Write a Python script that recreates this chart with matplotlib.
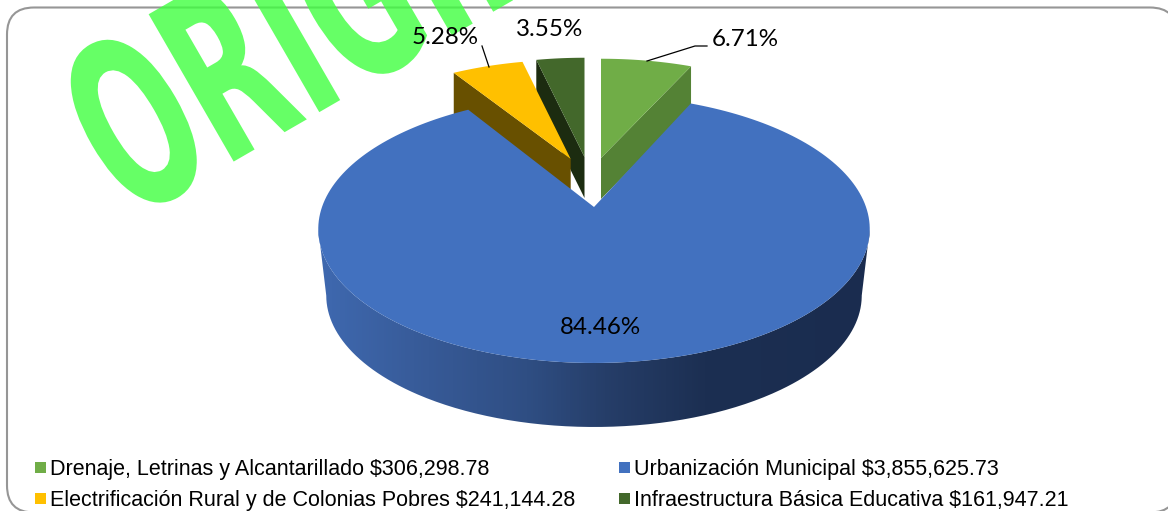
import numpy as np
import matplotlib
matplotlib.use('Agg')
import matplotlib.pyplot as plt
import matplotlib.patheffects as pe
from matplotlib.colors import LinearSegmentedColormap
from matplotlib.patches import FancyBboxPatch, Polygon, Rectangle
from matplotlib.path import Path
from matplotlib.transforms import Affine2D

names = ['Drenaje, Letrinas y Alcantarillado', 'Urbanización Municipal',
         'Electrificación Rural y de Colonias Pobres', 'Infraestructura Básica Educativa']
values = [306298.78, 3855625.73, 241144.28, 161947.21]

top_colors = ['#70ad47', '#4271bf', '#ffc000', '#43682b']
side_colors = ['#548235', None, '#685000', '#1c2c10']

# perspective of the pie plate, in pixels
A, B, K = 272.0, 130.4, 0.164
CX, CY = 594.0, 207.0


class Squeeze(pe.AbstractPathEffect):
    # the watermark font is much narrower than anything installed
    def __init__(self, sx):
        super().__init__()
        self.sx = sx

    def draw_path(self, renderer, gc, tpath, affine, rgbFace=None):
        renderer.draw_path(gc, tpath, Affine2D().scale(self.sx, 1) + affine, rgbFace)


def rim(th, cx=CX, cy=CY, sx=1.0, sy=1.0):
    # th clockwise from 12 o'clock, radians
    d = 1 + K * np.cos(th)
    return np.column_stack([cx + sx * A * np.sin(th) / d, cy - sy * B * np.cos(th) / d])


def wedge(t0, t1, apex=(CX, CY), sx=1.0, sy=1.0):
    th = np.linspace(t0, t1, 200)
    return np.vstack([[apex], rim(th, apex[0], apex[1], sx, sy)])


fig = plt.figure(figsize=(11.68, 5.11), dpi=100)
ax = fig.add_axes([0, 0, 1, 1])
ax.set_xlim(0, 1168)
ax.set_ylim(511, 0)
ax.axis('off')

frame = FancyBboxPatch((7, 7.5), 1170, 505, boxstyle='round,pad=0,rounding_size=27',
                       fc='white', ec='#969696', lw=1.5, zorder=1)
ax.add_patch(frame)

ax.text(129, 222, 'ORIGINAL', fontsize=168, fontweight='bold', family='DejaVu Sans',
        color='#40ff40', alpha=0.8, rotation=30, rotation_mode='anchor',
        ha='left', va='baseline', zorder=2, path_effects=[Squeeze(0.55)])

total = sum(values)
shares = [v / total for v in values]
edges = np.cumsum([0] + shares) * 2 * np.pi

# exploded slices, apex of the top face
SX, SY, DEPTH = 0.93, 0.886, 41
apexes = {0: (601, 158), 2: (570.7, 159), 3: (584.5, 157)}

for i in [3, 2, 0]:
    ap = apexes[i]
    cut = edges[i + 1] if i == 0 else edges[i]
    c = rim(np.array([cut]), ap[0], ap[1], SX, SY)[0]
    ax.add_patch(Polygon([ap, c, (c[0], c[1] + DEPTH), (ap[0], ap[1] + DEPTH)],
                         fc=side_colors[i], ec='none', zorder=3))
    ax.add_patch(Polygon(wedge(edges[i], edges[i + 1], ap, SX, SY),
                         fc=top_colors[i], ec='none', zorder=3))

# blue plate side, gradient clipped to the front band
t_ext = np.arccos(-K)
th = np.linspace(t_ext, 2 * np.pi - t_ext, 300)
upper = rim(th)
lower = rim(th, CX, 274, 268 / 276, 153 / 156)
band = np.vstack([upper, lower[::-1]])
cmap = LinearSegmentedColormap.from_list('side', [(0, '#3f69b0'), (0.2, '#375a97'), (0.38, '#2f4e83'),
                                                  (0.52, '#263e69'), (0.7, '#1c2f52'), (1, '#1a2c4f')])
grad = ax.imshow(np.linspace(0, 1, 556).reshape(1, -1), extent=(316, 872, 430, 200), cmap=cmap,
                 aspect='auto', zorder=4)
grad.set_clip_path(Path(band), ax.transData)
ax.set_xlim(0, 1168)
ax.set_ylim(511, 0)

ax.add_patch(Polygon(wedge(edges[1], edges[2]), fc=top_colors[1], ec='none', zorder=5))

# data labels
label_pos = [(745, 39), (600, 328), (445, 38), (550, 30)]
for s, (x, y) in zip(shares, label_pos):
    ax.text(x, y, f'{s * 100:.2f}%', fontsize=17.4, family='Lato', color='black',
            ha='center', va='center', zorder=6)
ax.plot([647, 695, 707], [61, 46, 46], color='black', lw=0.9, zorder=6)
ax.plot([482, 489], [46, 67], color='black', lw=0.9, zorder=6)

# legend
leg_x = [35, 619, 35, 619]
leg_y = [475, 475, 506, 506]
for name, v, col, x, y in zip(names, values, top_colors, leg_x, leg_y):
    ax.add_patch(Rectangle((x, y - 13), 11, 11, fc=col, ec='none', zorder=6))
    ax.text(x + 15, y, f'{name} ${v:,.2f}', fontsize=15.5, family='Liberation Sans',
            color='black', ha='left', va='baseline', zorder=6)

fig.savefig('out.png', dpi=100)
